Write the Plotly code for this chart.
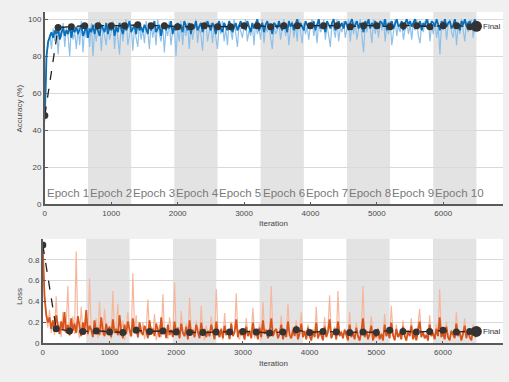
import numpy as np
import plotly.graph_objects as go

# ---------------- data ----------------
RAW_STEP = 25
SMOOTH_STEP = 25
VAL_STEP = 200
FINAL_ITER = 6500
ITERS_PER_EPOCH = 650
N_EPOCHS = 10

train_acc_raw = [
    45, 80, 86, 92, 84, 95, 88, 97, 81, 94, 90, 98, 85, 96, 91, 80, 97, 89, 93, 84,
    96, 86, 99, 82, 95, 90, 97, 85, 98, 80, 94, 88, 96, 99, 83, 95, 91, 86, 97, 89,
    93, 99, 84, 97, 90, 81, 98, 88, 95, 100, 86, 92, 97, 83, 96, 90, 85, 98, 89, 95,
    87, 99, 93, 84, 98, 90, 96, 86, 100, 92, 88, 97, 82, 95, 91, 99, 86, 94, 97, 80,
    95, 88, 99, 86, 96, 91, 98, 84, 97, 89, 94, 100, 87, 95, 92, 83, 97, 99, 88, 94,
    98, 87, 96, 90, 84, 97, 92, 99, 88, 95, 86, 98, 93, 89, 100, 91, 85, 97, 94, 90,
    96, 100, 88, 94, 91, 97, 86, 99, 92, 95, 89, 100, 87, 96, 93, 98, 90, 84, 97, 92,
    94, 99, 89, 96, 100, 91, 97, 86, 95, 99, 90, 97, 88, 100, 93, 87, 98, 92, 96, 89,
    97, 100, 91, 96, 87, 99, 93, 95, 100, 89, 97, 92, 85, 99, 94, 90, 100, 88, 96, 93,
    99, 90, 95, 100, 88, 97, 92, 99, 89, 96, 100, 91, 82, 98, 93, 99, 95, 87, 100, 92,
    98, 90, 99, 94, 100, 88, 97, 92, 99, 86, 95, 100, 91, 97, 93, 99, 89, 96, 100, 92,
    97, 89, 99, 94, 100, 91, 87, 98, 93, 99, 95, 100, 88, 97, 92, 99, 90, 96, 81, 98,
    94, 99, 89, 97, 100, 93, 90, 99, 86, 97, 92, 100, 95, 88, 99, 93, 97, 100, 90, 96,
    98,
]

train_acc_smooth = [
    47, 80, 88, 91, 93, 90, 94, 92, 95, 89, 93, 96, 91, 94, 92, 97, 90, 95, 93, 96,
    92, 95, 97, 91, 94, 96, 90, 95, 93, 97, 92, 96, 94, 91, 97, 95, 93, 98, 92, 96,
    94, 97, 91, 96, 93, 98, 95, 92, 97, 94, 96, 99, 93, 95, 97, 92, 98, 94, 96, 93,
    97, 95, 92, 98, 94, 96, 99, 93, 95, 97, 91, 96, 98, 94, 97, 95, 99, 92, 96, 94,
    98, 95, 97, 93, 99, 96, 94, 98, 92, 97, 95, 99, 94, 96, 98, 93, 97, 95, 99, 96,
    94, 98, 96, 92, 97, 99, 95, 93, 98, 96, 94, 99, 97, 93, 96, 98, 94, 97, 99, 95,
    97, 94, 99, 96, 93, 98, 95, 97, 100, 94, 96, 98, 93, 97, 99, 95, 96, 92, 98, 97,
    95, 99, 96, 94, 98, 97, 93, 99, 96, 98, 94, 97, 100, 95, 98, 96, 94, 99, 97, 95,
    98, 96, 99, 94, 97, 100, 95, 98, 96, 93, 99, 97, 95, 98, 100, 94, 97, 99, 96, 98,
    95, 99, 97, 94, 98, 100, 96, 97, 99, 95, 98, 96, 93, 99, 97, 100, 95, 98, 96, 99,
    97, 95, 99, 98, 96, 100, 94, 98, 97, 99, 95, 98, 100, 96, 97, 99, 94, 98, 100, 97,
    99, 96, 98, 100, 95, 97, 99, 94, 98, 96, 100, 97, 95, 99, 98, 96, 100, 97, 94, 99,
    97, 100, 96, 98, 99, 95, 97, 100, 96, 98, 94, 99, 97, 100, 96, 98, 99, 95, 97, 100,
    97,
]

val_acc = [
    48, 95.5, 96, 96.5, 96.5, 96.5, 96.5, 97, 96.5, 96.5, 96, 96, 96.5, 96, 96, 96.5,
    96.5, 96, 96.5, 96.5, 96.5, 96.5, 96.5, 96, 96.5, 96.5, 96, 96.5, 96.5, 96, 96.5,
    96.5, 96,
]
final_acc = 96.2

train_loss_raw = [
    0.92, 0.48, 0.26, 0.15, 0.32, 0.10, 0.22, 0.08, 0.45, 0.12, 0.18, 0.06, 0.30, 0.11, 0.16, 0.55, 0.07, 0.14, 0.26, 0.09,
    0.88, 0.13, 0.05, 0.35, 0.10, 0.19, 0.28, 0.07, 0.62, 0.15, 0.09, 0.12, 0.24, 0.05, 0.40, 0.11, 0.08, 0.33, 0.13, 0.10,
    0.17, 0.04, 0.50, 0.09, 0.14, 0.38, 0.07, 0.12, 0.22, 0.03, 0.15, 0.30, 0.08, 0.06, 0.67, 0.11, 0.27, 0.05, 0.13, 0.09,
    0.20, 0.04, 0.12, 0.42, 0.07, 0.16, 0.09, 0.28, 0.03, 0.11, 0.18, 0.06, 0.47, 0.10, 0.13, 0.04, 0.25, 0.12, 0.07, 0.58,
    0.09, 0.15, 0.04, 0.31, 0.11, 0.06, 0.19, 0.03, 0.44, 0.10, 0.14, 0.05, 0.22, 0.12, 0.07, 0.36, 0.09, 0.03, 0.17, 0.11,
    0.06, 0.26, 0.10, 0.04, 0.52, 0.12, 0.07, 0.15, 0.03, 0.29, 0.09, 0.13, 0.05, 0.21, 0.08, 0.11, 0.48, 0.06, 0.04, 0.14,
    0.10, 0.03, 0.24, 0.07, 0.13, 0.09, 0.34, 0.05, 0.12, 0.08, 0.19, 0.03, 0.40, 0.10, 0.14, 0.06, 0.11, 0.55, 0.07, 0.09,
    0.13, 0.04, 0.09, 0.27, 0.03, 0.11, 0.07, 0.38, 0.10, 0.05, 0.16, 0.08, 0.22, 0.03, 0.12, 0.30, 0.06, 0.10, 0.04, 0.18,
    0.08, 0.02, 0.14, 0.06, 0.35, 0.04, 0.11, 0.09, 0.03, 0.25, 0.07, 0.13, 0.46, 0.05, 0.10, 0.16, 0.03, 0.50, 0.08, 0.12,
    0.05, 0.14, 0.09, 0.03, 0.30, 0.06, 0.11, 0.04, 0.20, 0.08, 0.02, 0.12, 0.55, 0.07, 0.13, 0.04, 0.10, 0.26, 0.03, 0.09,
    0.06, 0.15, 0.04, 0.10, 0.02, 0.28, 0.07, 0.12, 0.05, 0.36, 0.09, 0.03, 0.18, 0.06, 0.11, 0.04, 0.22, 0.08, 0.02, 0.13,
    0.07, 0.24, 0.04, 0.10, 0.03, 0.16, 0.33, 0.06, 0.12, 0.05, 0.09, 0.02, 0.27, 0.07, 0.11, 0.04, 0.19, 0.08, 0.52, 0.06,
    0.11, 0.04, 0.21, 0.07, 0.03, 0.13, 0.09, 0.05, 0.30, 0.08, 0.12, 0.02, 0.10, 0.24, 0.05, 0.14, 0.07, 0.03, 0.18, 0.09,
    0.06,
]

train_loss_smooth = [
    0.90, 0.45, 0.28, 0.20, 0.25, 0.14, 0.22, 0.11, 0.27, 0.16, 0.09, 0.21, 0.13, 0.30, 0.10, 0.18, 0.08, 0.24, 0.12, 0.19,
    0.10, 0.26, 0.14, 0.07, 0.20, 0.11, 0.32, 0.09, 0.17, 0.13, 0.06, 0.22, 0.10, 0.15, 0.08, 0.25, 0.12, 0.07, 0.19, 0.11,
    0.16, 0.06, 0.23, 0.10, 0.14, 0.08, 0.27, 0.12, 0.05, 0.18, 0.09, 0.21, 0.13, 0.07, 0.24, 0.10, 0.16, 0.06, 0.20, 0.11,
    0.08, 0.17, 0.12, 0.05, 0.22, 0.09, 0.14, 0.07, 0.19, 0.11, 0.06, 0.25, 0.10, 0.15, 0.05, 0.18, 0.08, 0.13, 0.06, 0.21,
    0.09, 0.15, 0.05, 0.19, 0.10, 0.07, 0.16, 0.04, 0.22, 0.09, 0.13, 0.06, 0.18, 0.11, 0.05, 0.20, 0.08, 0.14, 0.06, 0.12,
    0.07, 0.18, 0.10, 0.04, 0.21, 0.09, 0.06, 0.14, 0.05, 0.17, 0.08, 0.12, 0.04, 0.19, 0.07, 0.11, 0.23, 0.06, 0.13, 0.08,
    0.10, 0.04, 0.16, 0.07, 0.12, 0.05, 0.20, 0.08, 0.11, 0.04, 0.15, 0.06, 0.22, 0.09, 0.13, 0.05, 0.10, 0.24, 0.07, 0.12,
    0.14, 0.05, 0.09, 0.18, 0.04, 0.11, 0.06, 0.21, 0.08, 0.05, 0.13, 0.07, 0.17, 0.04, 0.10, 0.19, 0.06, 0.12, 0.04, 0.15,
    0.07, 0.03, 0.12, 0.06, 0.20, 0.05, 0.10, 0.08, 0.03, 0.16, 0.06, 0.11, 0.23, 0.05, 0.09, 0.14, 0.04, 0.21, 0.07, 0.11,
    0.05, 0.13, 0.08, 0.03, 0.18, 0.06, 0.10, 0.04, 0.15, 0.07, 0.03, 0.11, 0.24, 0.06, 0.12, 0.04, 0.09, 0.17, 0.03, 0.08,
    0.06, 0.14, 0.04, 0.09, 0.03, 0.18, 0.07, 0.11, 0.05, 0.20, 0.08, 0.03, 0.14, 0.06, 0.10, 0.04, 0.16, 0.07, 0.03, 0.12,
    0.07, 0.17, 0.04, 0.09, 0.03, 0.13, 0.21, 0.06, 0.11, 0.05, 0.08, 0.03, 0.18, 0.07, 0.10, 0.04, 0.14, 0.07, 0.25, 0.06,
    0.10, 0.04, 0.16, 0.06, 0.03, 0.12, 0.08, 0.05, 0.19, 0.07, 0.11, 0.03, 0.09, 0.17, 0.05, 0.12, 0.06, 0.03, 0.14, 0.08,
    0.06,
]

val_loss = [
    0.94, 0.14, 0.12, 0.115, 0.12, 0.11, 0.105, 0.125, 0.115, 0.12, 0.11, 0.105, 0.105,
    0.11, 0.11, 0.115, 0.11, 0.10, 0.11, 0.13, 0.105, 0.115, 0.11, 0.105, 0.11, 0.105,
    0.125, 0.115, 0.11, 0.115, 0.125, 0.11, 0.115,
]
final_loss = 0.115

epoch_labels = [f"Epoch {i}" for i in range(1, N_EPOCHS + 1)]
acc_ticks = [0, 20, 40, 60, 80, 100]
loss_ticks = [0, 0.2, 0.4, 0.6, 0.8]
iter_ticks = [0, 1000, 2000, 3000, 4000, 5000, 6000]

# ---------------- derived x ----------------
x_raw = np.arange(len(train_acc_raw)) * RAW_STEP
x_smooth = np.arange(len(train_acc_smooth)) * SMOOTH_STEP
x_val = np.arange(len(val_acc)) * VAL_STEP

# ---------------- styles ----------------
BG = "#f0f0f0"
ACC_RAW = "#8fc0e8"
ACC_SM = "#0a6fba"
LOSS_RAW = "#f6b89d"
LOSS_SM = "#d9541a"
VAL_C = "#333333"
FONT = "Liberation Sans, Arial"
TICK_FONT = dict(family=FONT, size=8, color="#4a4a4a")

fig = go.Figure()

# accuracy
fig.add_trace(go.Scatter(x=x_raw, y=train_acc_raw, mode="lines",
                         line=dict(color=ACC_RAW, width=1.2), xaxis="x", yaxis="y"))
fig.add_trace(go.Scatter(x=x_smooth, y=train_acc_smooth, mode="lines",
                         line=dict(color=ACC_SM, width=1.8), xaxis="x", yaxis="y"))
fig.add_trace(go.Scatter(x=list(x_val) + [FINAL_ITER], y=val_acc + [final_acc], mode="lines+markers",
                         line=dict(color="#222222", width=1.3, dash="dash"),
                         marker=dict(color=VAL_C, size=7), xaxis="x", yaxis="y"))
fig.add_trace(go.Scatter(x=[FINAL_ITER], y=[final_acc], mode="markers",
                         marker=dict(color=VAL_C, size=11), xaxis="x", yaxis="y"))

# loss
fig.add_trace(go.Scatter(x=x_raw, y=train_loss_raw, mode="lines",
                         line=dict(color=LOSS_RAW, width=1.2), xaxis="x2", yaxis="y2"))
fig.add_trace(go.Scatter(x=x_smooth, y=train_loss_smooth, mode="lines",
                         line=dict(color=LOSS_SM, width=1.8), xaxis="x2", yaxis="y2"))
fig.add_trace(go.Scatter(x=list(x_val) + [FINAL_ITER], y=val_loss + [final_loss], mode="lines+markers",
                         line=dict(color="#222222", width=1.3, dash="dash"),
                         marker=dict(color=VAL_C, size=7), xaxis="x2", yaxis="y2"))
fig.add_trace(go.Scatter(x=[FINAL_ITER], y=[final_loss], mode="markers",
                         marker=dict(color=VAL_C, size=11), xaxis="x2", yaxis="y2"))

shapes = []
annotations = []
for e in range(N_EPOCHS):
    x0 = e * ITERS_PER_EPOCH
    x1 = (e + 1) * ITERS_PER_EPOCH
    if e % 2 == 1:
        for xr, yr in (("x", "y domain"), ("x2", "y2 domain")):
            shapes.append(dict(type="rect", xref=xr, yref=yr, x0=x0, x1=x1, y0=0, y1=1,
                               fillcolor="#e3e3e3", line=dict(width=0), layer="below"))
    annotations.append(dict(x=x0, y=6, xref="x", yref="y", text=epoch_labels[e],
                            showarrow=False, xanchor="left", yanchor="middle", xshift=0,
                            font=dict(family=FONT, size=11.5, color="#7a7a7a")))

def label(x, y, text, angle=0):
    return dict(x=x / 509, y=1 - y / 382, xref="paper", yref="paper", text=text, textangle=angle,
                showarrow=False, xanchor="center", yanchor="middle",
                font=dict(family=FONT, size=8, color="#444"))

annotations += [
    dict(x=FINAL_ITER, y=final_acc, xref="x", yref="y", text="Final", showarrow=False,
         xanchor="left", yanchor="middle", xshift=5, font=dict(family=FONT, size=8, color="#333")),
    dict(x=FINAL_ITER, y=final_loss, xref="x2", yref="y2", text="Final", showarrow=False,
         xanchor="left", yanchor="middle", xshift=5, font=dict(family=FONT, size=8, color="#333")),
    label(18, 110, "Accuracy (%)", -90),
    label(273, 226, "Iteration"),
    label(17, 300, "Loss", -90),
    label(273, 368, "Iteration"),
]

axis_common = dict(showline=True, linecolor="#5a5a5a", linewidth=1.5, ticks="inside",
                   ticklen=3, tickcolor="#5a5a5a", tickfont=TICK_FONT, zeroline=False)

fig.update_layout(
    width=509, height=382, margin=dict(l=0, r=0, t=0, b=0),
    paper_bgcolor=BG, plot_bgcolor="white", showlegend=False,
    shapes=shapes, annotations=annotations,
    xaxis=dict(domain=[43 / 509, 503 / 509], range=[0, 6900], tickvals=iter_ticks,
               showgrid=False, anchor="y", **axis_common),
    yaxis=dict(domain=[1 - 207 / 382, 1 - 12 / 382], range=[0, 104], tickvals=acc_ticks,
               showgrid=True, gridcolor="#d9d9d9", gridwidth=1, anchor="x", **axis_common),
    xaxis2=dict(domain=[41 / 509, 503 / 509], range=[0, 6900], tickvals=iter_ticks,
                showgrid=False, anchor="y2", **axis_common),
    yaxis2=dict(domain=[1 - 348 / 382, 1 - 242 / 382], range=[0, 1.0], tickvals=loss_ticks,
                showgrid=True, gridcolor="#d9d9d9", gridwidth=1, anchor="x2", **axis_common),
)

fig.write_html("out.html")
